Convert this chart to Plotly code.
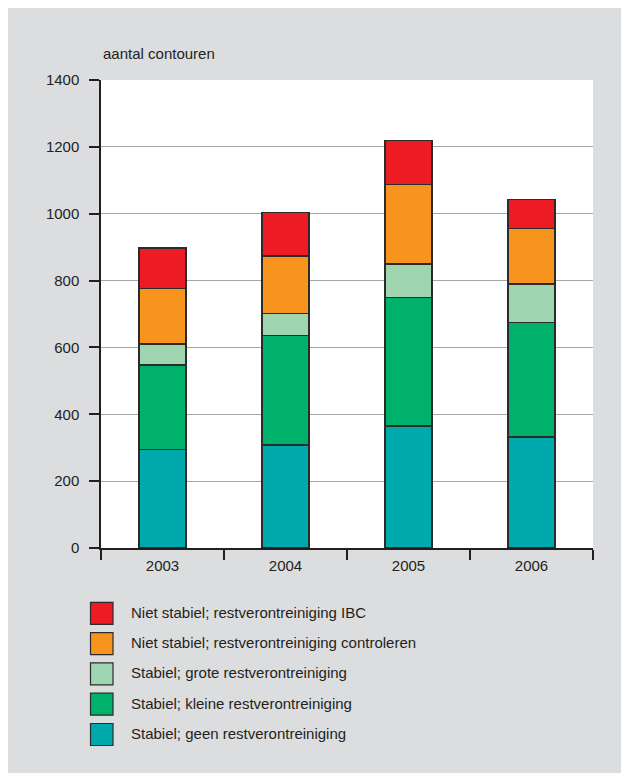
import plotly.graph_objects as go

years = ["2003", "2004", "2005", "2006"]
series_names = [
    "Stabiel; geen restverontreiniging",
    "Stabiel; kleine restverontreiniging",
    "Stabiel; grote restverontreiniging",
    "Niet stabiel; restverontreiniging controleren",
    "Niet stabiel; restverontreiniging IBC",
]
geen = [295, 308, 365, 332]
kleine = [253, 328, 385, 343]
grote = [62, 66, 100, 115]
controleren = [167, 172, 237, 166]
ibc = [120, 130, 132, 87]
series_values = [geen, kleine, grote, controleren, ibc]
colors = ["#00a9ac", "#00b16b", "#9fd5b1", "#f7941d", "#ed1c24"]
y_ticks = [0, 200, 400, 600, 800, 1000, 1200, 1400]
y_title = "aantal contouren"

# page: 8px white border at top/left; figure is 613x765
OFF = 8
W, H = 613, 765
L, R, T, B = 101, 593, 80, 548  # plot area in page pixels
pw, ph = R - L, B - T

def px(x):
    return (x - L) / pw

def py(y):
    return (B - y) / ph

font = dict(family="Liberation Sans, Arial, sans-serif", size=15, color="#231f20")

fig = go.Figure()
for name, vals, col in zip(series_names, series_values, colors):
    fig.add_trace(go.Bar(
        x=years, y=vals, name=name, marker=dict(color=col, line=dict(color="#2b2b2b", width=1.5)),
        width=0.38, showlegend=False,
    ))

shapes = []
annotations = [dict(text=y_title, xref="paper", yref="paper", x=px(100.5), y=py(54), xanchor="left",
                    yanchor="middle", showarrow=False, font=font)]

# custom legend (top item = last series)
for i, idx in enumerate(reversed(range(len(series_names)))):
    cy = 613.3 + 30.3 * i
    shapes.append(dict(type="rect", xref="paper", yref="paper", x0=px(90.5), x1=px(113),
                       y0=py(cy + 11), y1=py(cy - 11), fillcolor=colors[idx],
                       line=dict(color="#2b2b2b", width=1.2)))
    annotations.append(dict(text=series_names[idx], xref="paper", yref="paper", x=px(128.5), y=py(cy - 1),
                            xanchor="left", yanchor="middle", showarrow=False, font=font))

fig.update_layout(
    barmode="stack",
    width=W, height=H,
    margin=dict(l=L - OFF, r=W - (R - OFF), t=T - OFF, b=H - (B - OFF), pad=0),
    paper_bgcolor="#dcdddf",
    plot_bgcolor="white",
    font=font,
    shapes=shapes,
    annotations=annotations,
)
fig.update_xaxes(type="category", showline=True, linecolor="#231f20", linewidth=1.5,
                 ticks="outside", tickson="boundaries", ticklen=10, tickcolor="#231f20", tickwidth=1.5,
                 ticklabelstandoff=3, showgrid=False, tickfont=font)
fig.update_yaxes(range=[0, 1400], tickvals=y_ticks, showline=True, linecolor="#231f20", linewidth=1.5,
                 ticks="outside", ticklen=10, tickcolor="#231f20", tickwidth=1.5,
                 ticklabelstandoff=7, showgrid=True, gridcolor="#a6a6a6", gridwidth=1, zeroline=False,
                 tickfont=font)

fig.write_html(
    "out.html",
    post_script="document.body.style.margin='8px 0 0 8px';document.body.style.overflow='hidden';",
)
